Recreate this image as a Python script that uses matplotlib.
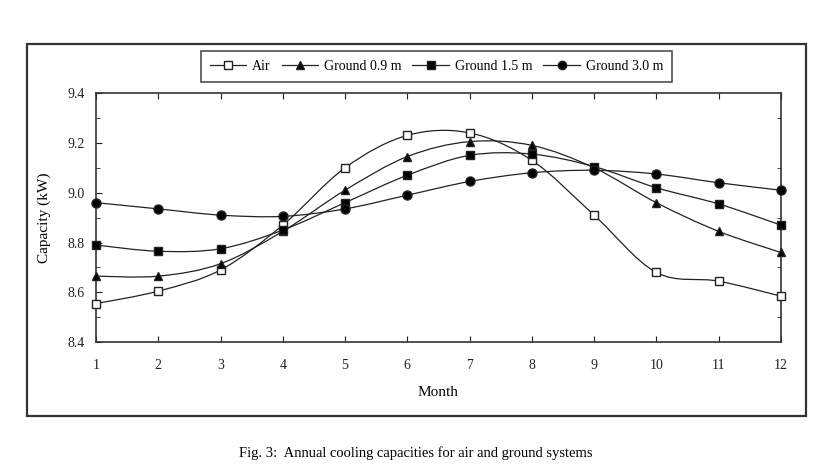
import numpy as np
import matplotlib.pyplot as plt
from matplotlib.patches import Rectangle
from matplotlib.path import Path
from matplotlib.patches import PathPatch

# datos
months = [1, 2, 3, 4, 5, 6, 7, 8, 9, 10, 11, 12]
air = [8.555, 8.605, 8.69, 8.87, 9.10, 9.23, 9.24, 9.13, 8.91, 8.68, 8.645, 8.585]
ground_09 = [8.665, 8.665, 8.715, 8.845, 9.01, 9.145, 9.205, 9.19, 9.10, 8.96, 8.845, 8.76]
ground_15 = [8.79, 8.765, 8.775, 8.85, 8.96, 9.07, 9.15, 9.155, 9.105, 9.02, 8.955, 8.87]
ground_30 = [8.96, 8.935, 8.91, 8.905, 8.935, 8.99, 9.045, 9.08, 9.09, 9.075, 9.04, 9.01]

series = [
    ('Air', air, 's', 'white'),
    ('Ground 0.9 m', ground_09, '^', 'black'),
    ('Ground 1.5 m', ground_15, 's', 'black'),
    ('Ground 3.0 m', ground_30, 'o', 'black'),
]

plt.rcParams['font.family'] = ['Liberation Serif', 'DejaVu Serif']


def smooth_path(x, y):
    # curva suave estilo Excel (bezier con tangentes de Catmull-Rom)
    x = np.asarray(x, float)
    y = np.asarray(y, float)
    n = len(x)
    verts = [(x[0], y[0])]
    codes = [Path.MOVETO]
    for i in range(n - 1):
        x0, y0 = (x[i - 1], y[i - 1]) if i > 0 else (x[i], y[i])
        x3, y3 = (x[i + 2], y[i + 2]) if i + 2 < n else (x[i + 1], y[i + 1])
        c1 = (x[i] + (x[i + 1] - x0) / 6, y[i] + (y[i + 1] - y0) / 6)
        c2 = (x[i + 1] - (x3 - x[i]) / 6, y[i + 1] - (y3 - y[i]) / 6)
        verts += [c1, c2, (x[i + 1], y[i + 1])]
        codes += [Path.CURVE4] * 3
    return Path(verts, codes)


fig = plt.figure(figsize=(8.28, 4.70), dpi=100)
ax = fig.add_axes([0.116, 0.272, 0.827, 0.530])

handles = []
for name, vals, mk, fc in series:
    ax.add_patch(PathPatch(smooth_path(months, vals), facecolor='none',
                           edgecolor='#222222', lw=0.9, zorder=2))
    h, = ax.plot(months, vals, ls='none', marker=mk, markersize=6 if mk != 'o' else 6.5,
                 markerfacecolor=fc, markeredgecolor='#222222', markeredgewidth=1.0,
                 zorder=3, clip_on=False)
    lh, = ax.plot([], [], color='#222222', lw=0.9, marker=mk, markersize=6,
                  markerfacecolor=fc, markeredgecolor='#222222', label=name)
    handles.append(lh)

ax.set_xlim(1, 12)
ax.set_ylim(8.4, 9.4)
ax.set_xticks(months)
ax.set_yticks([8.4, 8.6, 8.8, 9.0, 9.2, 9.4])
ax.set_yticklabels(['8.4', '8.6', '8.8', '9.0', '9.2', '9.4'])
ax.set_yticks(np.arange(8.5, 9.4, 0.2), minor=True)
ax.tick_params(axis='both', which='both', direction='in', top=True, right=True,
               labelsize=10, colors='#222222')
ax.tick_params(axis='both', which='major', length=4, pad=12)
ax.tick_params(axis='y', which='major', pad=8)
ax.tick_params(axis='y', which='minor', length=3)
ax.tick_params(axis='y', which='major', right=False)
for s in ax.spines.values():
    s.set_color('#333333')
    s.set_linewidth(1.2)

ax.set_xlabel('Month', fontsize=11, labelpad=10)
ax.set_ylabel('Capacity (kW)', fontsize=11, labelpad=12)

leg = fig.legend(handles=handles, loc='center', bbox_to_anchor=(0.527, 0.859), ncol=4,
                 fontsize=10, frameon=True, fancybox=False, handlelength=2.6,
                 handletextpad=0.45, columnspacing=0.8, borderpad=0.65)
leg.get_frame().set_edgecolor('#222222')
leg.get_frame().set_linewidth(1.2)

# marco exterior
fig.patches.append(Rectangle((27 / 828, 1 - 416 / 470), (806 - 27) / 828, (416 - 44) / 470,
                             transform=fig.transFigure, fill=False,
                             edgecolor='#333333', lw=1.6))

fig.text(0.502, 1 - 453 / 470, 'Fig. 3:  Annual cooling capacities for air and ground systems',
         ha='center', va='center', fontsize=10.5)

plt.savefig('out.png', dpi=100)
